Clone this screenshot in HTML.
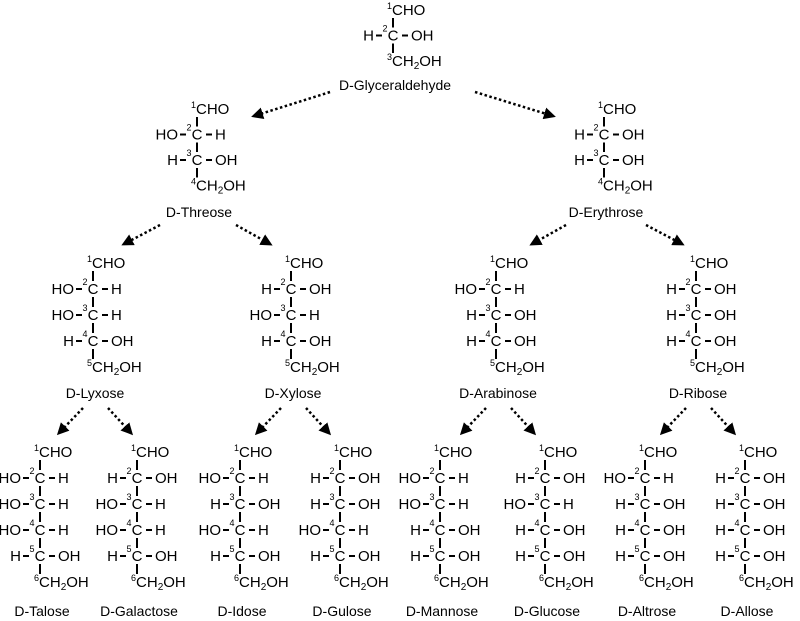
<!DOCTYPE html><html><head><style>body{margin:0;background:#fff}svg{display:block}text{font-family:"Liberation Sans",sans-serif;fill:#000}</style></head><body>
<svg id="s" width="800" height="621" xmlns="http://www.w3.org/2000/svg">
<defs><marker id="a" markerWidth="12" markerHeight="12" refX="9" refY="6" orient="auto" markerUnits="userSpaceOnUse"><path d="M0,0 L12,6 L0,12 z" fill="#000"/></marker></defs>
</svg>
<script>
var s=document.getElementById('s'),h='';
function t(x,y,str,anc,fs){h+='<text x="'+x+'" y="'+y+'" font-size="'+(fs||15)+'" text-anchor="'+(anc||'start')+'">'+str+'</text>';}
function l(x1,y1,x2,y2,w){h+='<line x1="'+x1+'" y1="'+y1+'" x2="'+x2+'" y2="'+y2+'" stroke="#000" stroke-width="'+(w||2)+'"/>';}
function sugar(x,y,dy,st,name,ly){
 var n=st.length;
 t(x-6,y+5,'<tspan font-size="9" dy="-6">1</tspan><tspan dy="6">CHO</tspan>');
 for(var i=0;i<n;i++){
  var yy=y+dy*(i+1);
  l(x,yy-dy+8,x,yy-8);
  var L=st[i]=='L'?'HO':'H',R=st[i]=='L'?'H':'OH';
  t(x-19,yy+5,L,'end');l(x-17,yy,x-11,yy);
  t(x-8,yy-4,(i+2)+'','middle',9);
  t(x,yy+5,'C','middle');l(x+9,yy,x+15,yy);t(x+18,yy+5,R);
 }
 var yl=y+dy*(n+1);
 l(x,yl-dy+8,x,yl-8);
 t(x-6,yl+5,'<tspan font-size="9" dy="-6">'+(n+2)+'</tspan><tspan dy="6">CH</tspan><tspan font-size="10" dy="3">2</tspan><tspan dy="-3">OH</tspan>');
 t(x+2,ly,name,'middle',14);
}
function ar(x1,y1,x2,y2){h+='<line x1="'+x1+'" y1="'+y1+'" x2="'+x2+'" y2="'+y2+'" stroke="#000" stroke-width="2.5" stroke-dasharray="2.5,2.5" marker-end="url(#a)"/>';}
sugar(393,10,25.5,'R','D-Glyceraldehyde',90);
sugar(197,109,25.5,'LR','D-Threose',217);
sugar(604,109,25.5,'RR','D-Erythrose',217);
var P=[[93,'LLR','D-Lyxose'],[291,'RLR','D-Xylose'],[496,'LRR','D-Arabinose'],[696,'RRR','D-Ribose']];
P.forEach(function(p){sugar(p[0],263,26,p[1],p[2],398);ar(p[0]-10,408,p[0]-34,433);ar(p[0]+15,408,p[0]+38,433);});
var H=[[40,'LLLR','D-Talose'],[137,'RLLR','D-Galactose'],[240,'LRLR','D-Idose'],[340,'RRLR','D-Gulose'],[440,'LLRR','D-Mannose'],[545,'RLRR','D-Glucose'],[645,'LRRR','D-Altrose'],[745,'RRRR','D-Allose']];
H.forEach(function(p){sugar(p[0],452,26,p[1],p[2],616);});
ar(330,92,254,116);ar(475,92,553,116);
ar(160,225,124,244);ar(236,225,270,244);ar(566,225,532,244);ar(646,225,682,244);
s.innerHTML+=h;
</script></body></html>
